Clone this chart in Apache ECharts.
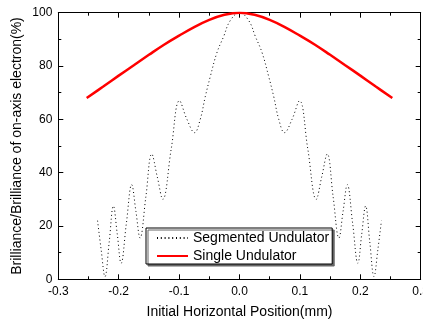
<!DOCTYPE html>
<html>
<head>
<meta charset="utf-8">
<script src="https://cdn.jsdelivr.net/npm/echarts@6/dist/echarts.min.js"></script>
<style>
html,body{margin:0;padding:0;background:#fff;}
#chart{width:423px;height:321px;}
</style>
</head>
<body>
<div id="chart"></div>
<script>
// Segmented undulator (dotted black)
var segX = [-0.235,-0.229,-0.2227,-0.2157,-0.2088,-0.2024,-0.196,-0.1873,-0.1785,-0.1715,-0.1646,-0.155,-0.1453,-0.1362,-0.127,-0.113,-0.0994,-0.087,-0.0744,-0.065,-0.0567,-0.0484,-0.0374,-0.0264,-0.0154,0,
            0.0154,0.0264,0.0374,0.0484,0.0567,0.065,0.0744,0.087,0.0994,0.113,0.127,0.1362,0.1453,0.155,0.1646,0.1715,0.1785,0.1873,0.196,0.2024,0.2088,0.2157,0.2227,0.229,0.235];
var segY = [22,11,1,14,27.5,17,6,21,35.5,25.5,15.5,31,47,38.5,30,49,67,60,55,60,68.5,76,85,91,97,100,
            97,91,85,76,68.5,60,55,60,67,49,30,38.5,47,31,15.5,25.5,35.5,21,6,17,27.5,14,1,11,22];
// Single undulator (red)
var singleX = [-0.253,-0.225,-0.2,-0.175,-0.15,-0.125,-0.1,-0.075,-0.05,-0.025,0,0.025,0.05,0.075,0.1,0.125,0.15,0.175,0.2,0.225,0.253];
var singleY = [68,72.4,76.4,80.3,84.2,88,91.4,94.6,97.3,99.2,100,99.2,97.3,94.6,91.4,88,84.2,80.3,76.4,72.4,68];
var seriesNames = ['Segmented Undulator','Single Undulator'];
var xTitle = 'Initial Horizontal Position(mm)';
var yTitle = 'Brilliance/Brilliance of on-axis electron(%)';

function pairs(xs, ys){ return xs.map(function(x,i){ return [x, ys[i]]; }); }

var font = 'Liberation Sans, Arial, sans-serif';
function axisCommon(){
  return {
    axisLine:{show:true, onZero:false, lineStyle:{color:'#000', width:1}},
    axisTick:{show:true, inside:true, length:5, lineStyle:{color:'#000'}},
    minorTick:{show:true, splitNumber:2, length:3, lineStyle:{color:'#000'}},
    splitLine:{show:false}
  };
}
var chart = echarts.init(document.getElementById('chart'), null, {renderer:'canvas'});
chart.setOption({
  animation:false,
  backgroundColor:'#fff',
  textStyle:{fontFamily:font},
  grid:{left:58.3, right:2.3, top:12.7, bottom:41.7, containLabel:false, outerBoundsMode:'none'},
  xAxis:[
    Object.assign({type:'value', position:'bottom', min:-0.3, max:0.3, interval:0.1,
      name:xTitle, nameLocation:'middle', nameGap:26,
      nameTextStyle:{fontSize:14, color:'#000', fontFamily:font},
      axisLabel:{show:true, margin:6, fontSize:12, color:'#000', fontFamily:font, showMaxLabel:true, showMinLabel:true,
        formatter:function(v){ return (Math.abs(v)<1e-9?0:v).toFixed(1); }}}, axisCommon()),
    Object.assign({type:'value', position:'top', min:-0.3, max:0.3, interval:0.1, axisLabel:{show:false}}, axisCommon())
  ],
  yAxis:[
    Object.assign({type:'value', position:'left', min:0, max:100, interval:20,
      name:yTitle, nameLocation:'middle', nameGap:34, nameMoveOverlap:false,
      nameTextStyle:{fontSize:14, color:'#000', fontFamily:font},
      axisLabel:{show:true, margin:6, fontSize:12, color:'#000', fontFamily:font}}, axisCommon()),
    Object.assign({type:'value', position:'right', min:0, max:100, interval:20, axisLabel:{show:false}}, axisCommon())
  ],
  legend:{
    orient:'vertical', left:146, top:228,
    padding:[3,3,1,10], itemGap:4, itemWidth:31, itemHeight:14,
    backgroundColor:'#fff', borderColor:'#000', borderWidth:1,
    shadowColor:'#666', shadowBlur:0, shadowOffsetX:2, shadowOffsetY:2,
    itemStyle:{opacity:0},
    textStyle:{fontSize:14, color:'#000', fontFamily:font},
    data:seriesNames
  },
  series:[
    {name:seriesNames[0], type:'line', symbol:'none', smooth:0.4, data:pairs(segX, segY),
     lineStyle:{color:'#000', width:1, type:[1,2.8]}, itemStyle:{color:'#000'}, z:2},
    {name:seriesNames[1], type:'line', symbol:'none', smooth:0.4, data:pairs(singleX, singleY),
     lineStyle:{color:'#ff0000', width:2.5}, itemStyle:{color:'#ff0000'}, z:3}
  ]
});
</script>
</body>
</html>
